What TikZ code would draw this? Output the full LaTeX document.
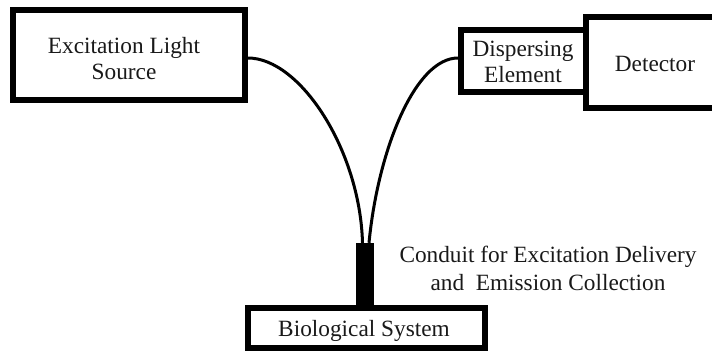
\documentclass[tikz,border=0pt]{standalone}
\usepackage{fontspec}
\setmainfont{Liberation Serif}
\begin{document}
\begin{tikzpicture}[x=1pt,y=-1pt,
  box/.style={draw=black,line width=6pt,minimum width=#1,inner sep=0pt},
  txt/.style={align=center,inner sep=0pt,font=\fontsize{23.3}{26}\selectfont,text=black!90},
  fiber/.style={draw=black,line width=3pt}]
  \useasboundingbox (0,0) rectangle (712,351);
  \clip (0,0) rectangle (712,351);
  % instrument blocks
  \node[box=232pt,minimum height=90pt] (src) at (129,55) {};
  \node[box=125pt,minimum height=62pt] (disp) at (523.5,61) {};
  \node[box=138pt,minimum height=91pt] (det) at (655,62) {};
  \node[txt] (srcl) at (124,58.5) {Excitation Light\\Source};
  \node[txt] (displ) at (523,62) {Dispersing\\Element};
  \node[txt] (detl) at (655,64) {Detector};
  % probe sheath and sample
  \node[fill=black,draw=none,minimum width=18pt,minimum height=65pt,inner sep=0pt] (conduit) at (365,275.5) {};
  \node[box=237pt,minimum height=40pt] (bio) at (366.5,328) {};
  \node[txt] (biol) at (364,330.5) {Biological System};
  % optical fibres
  \draw[fiber] ([yshift=-3pt]src.east) .. controls (300,58) and (360,150) .. ([xshift=-2.5pt]conduit.north);
  \draw[fiber] ([yshift=3pt]disp.west) .. controls (415,58) and (378,150) .. ([xshift=4pt]conduit.north);
  \node[txt,font=\fontsize{23.3}{28}\selectfont] (lbl) at (548,268.5) {Conduit for Excitation Delivery\\and~ Emission Collection};
\end{tikzpicture}
\end{document}
